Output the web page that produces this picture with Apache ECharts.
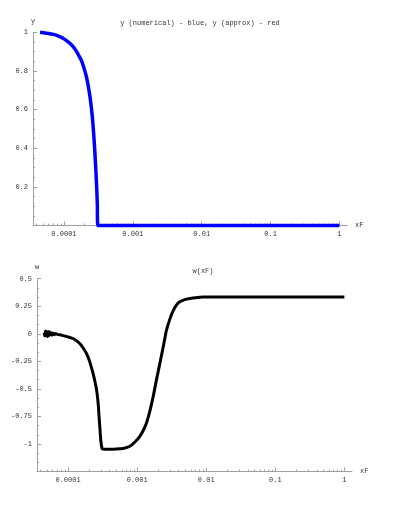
<!DOCTYPE html>
<html>
<head>
<meta charset="utf-8">
<script src="https://cdn.jsdelivr.net/npm/echarts@6/dist/echarts.min.js"></script>
<style>html,body{margin:0;padding:0;background:#fff}#c{width:401px;height:520px}</style>
</head>
<body>
<div id="c"></div>
<script>
// ---- data ----
const yX = [4.49e-5, 5.0e-5, 6.0e-5, 7.0e-5, 8.0e-5, 9.0e-5, 1.0e-4, 1.1e-4, 1.2e-4, 1.3e-4, 1.4e-4, 1.5e-4, 1.6e-4, 1.7e-4, 1.8e-4, 1.9e-4, 2.0e-4, 2.1e-4, 2.2e-4, 2.3e-4, 2.4e-4, 2.5e-4, 2.6e-4, 2.7e-4, 2.8e-4, 2.9e-4, 3.0e-4, 3.05e-4, 3.1e-4, 1e-3, 1e-2, 1e-1, 1.0];
const yVals = [1.0, 0.998, 0.994, 0.989, 0.983, 0.975, 0.966, 0.956, 0.945, 0.933, 0.92, 0.904, 0.887, 0.87, 0.852, 0.829, 0.803, 0.775, 0.742, 0.703, 0.66, 0.61, 0.55, 0.475, 0.39, 0.29, 0.18, 0.11, 0.0, 0.0, 0.0, 0.0, 0.0];

const wX = [4.5e-5, 4.6e-5, 4.7e-5, 4.8e-5, 4.9e-5, 5.0e-5, 5.1e-5, 5.2e-5, 5.3e-5, 5.4e-5, 5.6e-5, 5.8e-5, 6.0e-5, 6.3e-5, 6.6e-5, 7.0e-5, 8.0e-5, 1.0e-4, 1.2e-4, 1.476e-4, 1.7e-4, 1.845e-4, 2.05e-4, 2.3e-4, 2.5e-4, 2.63e-4, 2.75e-4, 2.81e-4, 2.9e-4, 2.98e-4, 3.1e-4, 3.2e-4, 4.02e-4, 5.0e-4, 6.27e-4, 7.3e-4, 8.28e-4, 9.5e-4, 1.094e-3, 1.23e-3, 1.365e-3, 1.53e-3, 1.706e-3, 1.9e-3, 2.13e-3, 2.4e-3, 2.66e-3, 3.0e-3, 3.33e-3, 3.7e-3, 4.15e-3, 4.9e-3, 5.79e-3, 7.0e-3, 9.06e-3, 0.03, 1.0];
const wVals = [0.01, -0.02, 0.025, -0.015, 0.02, -0.025, 0.015, -0.02, 0.02, -0.01, 0.012, -0.012, 0.008, -0.008, 0.003, -0.005, -0.012, -0.028, -0.045, -0.088, -0.14, -0.178, -0.25, -0.36, -0.46, -0.54, -0.66, -0.75, -0.87, -0.97, -1.04, -1.046, -1.048, -1.046, -1.04, -1.028, -1.01, -0.975, -0.93, -0.875, -0.81, -0.7, -0.57, -0.42, -0.27, -0.11, 0.033, 0.14, 0.21, 0.26, 0.29, 0.31, 0.32, 0.328, 0.333, 0.335, 0.335];

const xTickValues = [1e-4, 1e-3, 1e-2, 1e-1, 1];
const xTickLabels = ['0.0001', '0.001', '0.01', '0.1', '1'];
const xMinorTicks = [];
for (let e = -5; e <= -1; e++) for (let m = 2; m <= 9; m++) { const v = m * Math.pow(10, e); if (v > 3.6e-5 && v < 1) xMinorTicks.push(+v.toPrecision(3)); }

const topTitle = 'y (numerical) - blue, y (approx) - red';
const botTitle = 'w(xF)';

// ---- chart ----
const FONT = '"Liberation Mono", "DejaVu Sans Mono", monospace';
const AX = '#a0a0a0';
const TXT = '#333';
const xMin = 3.55e-5, xMax = 1.29;

function fmtX(v) {
  for (let i = 0; i < xTickValues.length; i++) {
    if (Math.abs(Math.log10(v) - Math.log10(xTickValues[i])) < 1e-6) return xTickLabels[i];
  }
  return '';
}
function majorX(g) {
  return {
    type: 'log', gridIndex: g, min: xMin, max: xMax, position: 'bottom',
    name: 'xF', nameLocation: 'end', nameGap: 8,
    nameTextStyle: { fontFamily: FONT, fontSize: 7, color: TXT },
    axisLine: { onZero: false, lineStyle: { color: AX, width: 1 } },
    axisTick: { inside: true, length: 4, lineStyle: { color: AX }, customValues: xTickValues },
    axisLabel: { customValues: xTickValues, formatter: fmtX, fontFamily: FONT, fontSize: 7, color: TXT, margin: 5 },
    splitLine: { show: false }, minorTick: { show: false }
  };
}
function minorX(g) {
  return {
    type: 'log', gridIndex: g, min: xMin, max: xMax, position: 'bottom',
    axisLine: { show: false, onZero: false },
    axisTick: { inside: true, length: 2, lineStyle: { color: AX }, customValues: xMinorTicks },
    axisLabel: { show: false },
    splitLine: { show: false }
  };
}
function yAx(g, min, max, interval, name, minorSplit) {
  return {
    type: 'value', gridIndex: g, min: min, max: max, interval: interval,
    name: name, nameLocation: 'end', nameGap: 8,
    nameTextStyle: { fontFamily: FONT, fontSize: 7, color: TXT, align: 'center' },
    axisLine: { show: true, onZero: false, lineStyle: { color: AX, width: 1 } },
    axisTick: { show: true, inside: true, length: 4, lineStyle: { color: AX } },
    minorTick: { show: true, splitNumber: minorSplit, length: 2, lineStyle: { color: AX } },
    axisLabel: { showMinLabel: false, fontFamily: FONT, fontSize: 7, color: TXT, margin: 5 },
    splitLine: { show: false }
  };
}

const chart = echarts.init(document.getElementById('c'), null, { renderer: 'canvas' });
chart.setOption({
  animation: false,
  backgroundColor: '#fff',
  grid: [
    { left: 33, top: 32.3, width: 314, height: 193.2 },
    { left: 37, top: 278.7, width: 315, height: 192.9 }
  ],
  xAxis: [majorX(0), minorX(0), majorX(1), minorX(1)],
  yAxis: [yAx(0, 0, 1, 0.2, 'y', 4), yAx(1, -1.25, 0.5, 0.25, 'w', 3)],
  graphic: [
    { type: 'text', x: 200, y: 23, style: { text: topTitle, font: '7px ' + FONT, fill: TXT, align: 'center', verticalAlign: 'middle' } },
    { type: 'text', x: 203, y: 271, style: { text: botTitle, font: '7px ' + FONT, fill: TXT, align: 'center', verticalAlign: 'middle' } }
  ],
  series: [
    { type: 'line', xAxisIndex: 0, yAxisIndex: 0, data: yX.map((x, i) => [x, yVals[i]]), showSymbol: false, smooth: 0.2, clip: false,
      lineStyle: { color: '#0000ff', width: 3.5 } },
    { type: 'line', xAxisIndex: 2, yAxisIndex: 1, data: wX.map((x, i) => [x, wVals[i]]), showSymbol: false, smooth: 0.2, clip: false,
      lineStyle: { color: '#000', width: 3 } }
  ]
});
</script>
</body>
</html>
